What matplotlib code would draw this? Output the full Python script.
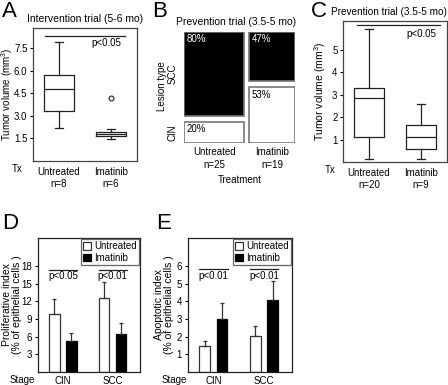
import matplotlib
matplotlib.use('Agg')
import matplotlib.pyplot as plt
import matplotlib.patches as mpatches

plt.rcParams['font.family'] = ['Liberation Sans', 'DejaVu Sans']
plt.rcParams['font.size'] = 7
plt.rcParams['mathtext.default'] = 'regular'

# ---- data ----
# A: intervention trial box plot
a_labels = ['Untreated\nn=8', 'Imatinib\nn=6']
a_whislo = [2.2, 1.45]
a_q1 = [3.3, 1.65]
a_med = [4.8, 1.8]
a_q3 = [5.7, 1.95]
a_whishi = [7.9, 2.1]
a_fliers = [[], [4.2]]

# B: lesion type mosaic
b_groups = ['Untreated', 'Imatinib']
b_n = [25, 19]
b_scc = [80, 47]
b_cin = [20, 53]

# C: prevention trial box plot
c_labels = ['Untreated\nn=20', 'Imatinib\nn=9']
c_whislo = [0.15, 0.15]
c_q1 = [1.1, 0.6]
c_med = [2.85, 1.1]
c_q3 = [3.3, 1.65]
c_whishi = [5.95, 2.6]

# D, E: bar charts
stages = ['CIN', 'SCC']
d_untreated = [9.8, 12.6]
d_untreated_err = [2.6, 2.7]
d_imatinib = [5.3, 6.5]
d_imatinib_err = [1.4, 1.9]
d_p = ['p<0.05', 'p<0.01']

e_untreated = [1.45, 2.05]
e_untreated_err = [0.3, 0.55]
e_imatinib = [3.0, 4.1]
e_imatinib_err = [0.9, 1.05]
e_p = ['p<0.01', 'p<0.01']

W, H = 448, 385
fig = plt.figure(figsize=(W / 100, H / 100), dpi=100)


def px_axes(l, t, r, b):
    return fig.add_axes([l / W, 1 - b / H, (r - l) / W, (b - t) / H])


def ftext(x, y, s, **kw):
    fig.text(x / W, 1 - y / H, s, **kw)


def boxpanel(ax, labels, lo, q1, med, q3, hi, fliers, width):
    stats = []
    for i in range(len(labels)):
        stats.append(dict(label=labels[i], whislo=lo[i], q1=q1[i], med=med[i],
                          q3=q3[i], whishi=hi[i], fliers=fliers[i]))
    lc = '#222222'
    ax.bxp(stats, positions=[1, 2], widths=width, capwidths=0.16,
           boxprops=dict(color=lc, lw=0.9), medianprops=dict(color=lc, lw=0.9),
           whiskerprops=dict(color=lc, lw=0.9), capprops=dict(color=lc, lw=0.9),
           flierprops=dict(marker='o', markerfacecolor='none', markeredgecolor=lc,
                           markersize=3.5, markeredgewidth=0.8))
    ax.set_xlim(0.5, 2.5)
    ax.tick_params(axis='x', length=0, pad=4)
    ax.tick_params(axis='y', length=2.5, width=0.8, pad=1.5)
    for lab in ax.get_xticklabels():
        lab.set_linespacing(1.35)
    for s in ax.spines.values():
        s.set_color('#444444')
        s.set_linewidth(0.9)


# ---- A ----
axA = px_axes(33, 28, 137, 161)
boxpanel(axA, a_labels, a_whislo, a_q1, a_med, a_q3, a_whishi, a_fliers, 0.56)
axA.set_ylim(0, 8.85)
axA.set_yticks([1.5, 3, 4.5, 6, 7.5])
axA.set_ylabel('Tumor volume (mm$^{3}$)', fontsize=7)
axA.yaxis.set_label_coords(-0.175, 0.5)
axA.plot([0.73, 2.27], [8.35, 8.35], color='#222222', lw=0.9)
axA.text(2.2, 8.2, 'p<0.05', ha='right', va='top')
axA.set_title('Intervention trial (5-6 mo)', fontsize=7.5, pad=4)
ftext(17, 169, 'Tx', ha='center', va='center')
ftext(2, 1, 'A', fontsize=16, va='top', ha='left')

# ---- B ----
axB = px_axes(184, 32, 295, 143)
axB.set_xlim(0, 1)
axB.set_ylim(0, 1)
axB.axis('off')
hgap, vgap = 0.045, 0.054
x0 = 0
for i in range(len(b_groups)):
    w = b_n[i] / sum(b_n) * (1 - hgap)
    hc = b_cin[i] / 100 * (1 - vgap)
    hs = b_scc[i] / 100 * (1 - vgap)
    axB.add_patch(mpatches.Rectangle((x0, 0), w, hc, fc='white', ec='#777777', lw=1.2))
    axB.add_patch(mpatches.Rectangle((x0, hc + vgap), w, hs, fc='black', ec='#777777', lw=1.2))
    axB.text(x0 + 0.025, hc - 0.02, '%d%%' % b_cin[i], ha='left', va='top', color='black')
    axB.text(x0 + 0.025, 0.985, '%d%%' % b_scc[i], ha='left', va='top', color='white')
    axB.text(x0 + w / 2, -0.04, '%s\nn=%d' % (b_groups[i], b_n[i]), ha='center', va='top',
             linespacing=1.35)
    if i == 0:
        axB.text(-0.1, hc + vgap + hs / 2, 'SCC', rotation=90, ha='center', va='center')
        axB.text(-0.1, hc / 2, 'CIN', rotation=90, ha='center', va='center')
    x0 += w + hgap
axB.text(-0.195, 0.51, 'Lesion type', rotation=90, ha='center', va='center')
axB.text(0.5, -0.33, 'Treatment', ha='center', va='center')
ftext(236, 22, 'Prevention trial (3.5-5 mo)', fontsize=7.5, ha='center', va='center')
ftext(152, 1, 'B', fontsize=16, va='top', ha='left')

# ---- C ----
axC = px_axes(343, 21, 447, 162)
boxpanel(axC, c_labels, c_whislo, c_q1, c_med, c_q3, c_whishi, [[], []], 0.58)
axC.set_ylim(0, 6.3)
axC.set_yticks([1, 2, 3, 4, 5])
axC.set_ylabel('Tumor volume (mm$^{3}$)', fontsize=7.5)
axC.yaxis.set_label_coords(-0.14, 0.5)
axC.plot([0.77, 2.37], [6.1, 6.1], color='#222222', lw=0.9)
axC.text(2.3, 5.95, 'p<0.05', ha='right', va='top')
ftext(447, 12, 'Prevention trial (3.5-5 mo)', fontsize=7.2, ha='right', va='center')
ftext(311, 1, 'C', fontsize=16, va='top', ha='left')
ftext(330, 170, 'Tx', ha='center', va='center')


# ---- D, E ----
def barpanel(ax, unt, unt_err, ima, ima_err, pvals, ymax, yticks, pline, ylabel, labx):
    xs = [1, 2]
    off, bw = 0.17, 0.21
    b1 = ax.bar([x - off for x in xs], unt, bw, color='white', edgecolor='#333333', lw=0.9,
                yerr=[[0] * len(unt), unt_err], capsize=1.5,
                error_kw=dict(ecolor='#333333', elinewidth=0.9, capthick=0.9),
                label='Untreated')
    b2 = ax.bar([x + off for x in xs], ima, bw, color='black', edgecolor='black', lw=0.9,
                yerr=[[0] * len(ima), ima_err], capsize=1.5,
                error_kw=dict(ecolor='#333333', elinewidth=0.9, capthick=0.9),
                label='Imatinib')
    for x, p in zip(xs, pvals):
        ax.plot([x - 0.28, x + 0.28], [pline, pline], color='#222222', lw=0.9)
        ax.annotate(p, (x, pline), xytext=(0, -1.2), textcoords='offset points',
                    ha='center', va='top')
    ax.set_xlim(0.5, 2.55)
    ax.set_ylim(0, ymax)
    ax.set_yticks(yticks)
    ax.set_xticks(xs)
    ax.set_xticklabels(stages)
    ax.tick_params(axis='x', length=0, pad=3)
    ax.tick_params(axis='y', length=2.5, width=0.8, pad=2)
    ax.set_ylabel(ylabel, linespacing=1.05, fontsize=7.5)
    ax.yaxis.set_label_coords(labx, 0.5)
    for s in ax.spines.values():
        s.set_color('#222222')
        s.set_linewidth(0.9)
    leg = ax.legend(handles=[b1, b2], loc='upper right', fontsize=7, fancybox=False,
                    edgecolor='#666666', framealpha=1, handlelength=0.8, handleheight=0.8,
                    borderpad=0.2, labelspacing=0.15, handletextpad=0.3, borderaxespad=0.15)
    leg.get_frame().set_linewidth(0.9)


axD = px_axes(38, 238, 140, 372)
barpanel(axD, d_untreated, d_untreated_err, d_imatinib, d_imatinib_err, d_p,
         22.8, [3, 6, 9, 12, 15, 18], 17.4, 'Proliferative index\n(% of epithelial cells )',
         -0.155)
ftext(22, 380, 'Stage', ha='center', va='center')
ftext(2, 213, 'D', fontsize=16, va='top', ha='left')

axE = px_axes(188, 238, 292, 372)
barpanel(axE, e_untreated, e_untreated_err, e_imatinib, e_imatinib_err, e_p,
         7.6, [1, 2, 3, 4, 5, 6], 5.85, 'Apoptotic index\n(% of epithelial cells )',
         -0.13)
ftext(174, 380, 'Stage', ha='center', va='center')
ftext(156, 213, 'E', fontsize=16, va='top', ha='left')

fig.savefig('out.png', dpi=100)
